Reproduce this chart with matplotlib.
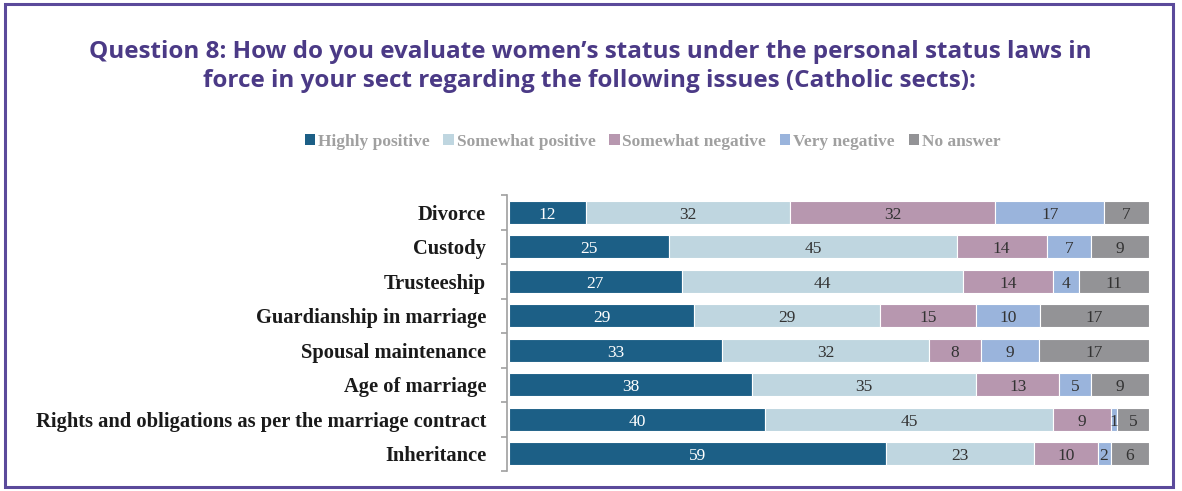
import matplotlib
matplotlib.use('Agg')

import matplotlib.pyplot as plt
from matplotlib.patches import Patch, Rectangle
import numpy as np

# Survey answers (Catholic sects), percentage of respondents per issue
issues = ['Divorce', 'Custody', 'Trusteeship', 'Guardianship in marriage',
          'Spousal maintenance', 'Age of marriage',
          'Rights and obligations as per the marriage contract', 'Inheritance']
answers = ['Highly positive', 'Somewhat positive', 'Somewhat negative',
           'Very negative', 'No answer']
highly_positive = [12, 25, 27, 29, 33, 38, 40, 59]
somewhat_positive = [32, 45, 44, 29, 32, 35, 45, 23]
somewhat_negative = [32, 14, 14, 15, 8, 13, 9, 10]
very_negative = [17, 7, 4, 10, 9, 5, 1, 2]
no_answer = [7, 9, 11, 17, 17, 9, 5, 6]

colors = ['#1c5f86', '#bfd6e0', '#b797af', '#9ab4dc', '#939396']
text_colors = ['white', '#333333', '#333333', '#333333', '#333333']

series = np.array([highly_positive, somewhat_positive, somewhat_negative,
                   very_negative, no_answer], dtype=float)
# bars are stacked to 100% of each row
shares = series / series.sum(axis=0) * 100

fig = plt.figure(figsize=(11.82, 4.91), dpi=100)
ax = fig.add_axes([0.4289, 0.0407, 0.5431, 0.5621])

y = np.arange(len(issues))
left = np.zeros(len(issues))
for vals, share, col, tcol in zip(series, shares, colors, text_colors):
    ax.barh(y, share, left=left, height=0.67, color=col,
            edgecolor='white', linewidth=0.8)
    for yi, v, l, s in zip(y, vals, left, share):
        ax.text(l + s / 2, yi + 0.07, f'{v:.0f}', ha='center', va='center',
                color=tcol, fontsize=12.5, family='Liberation Serif')
    left += share

ax.set_xlim(-0.3, 100)
ax.set_ylim(len(issues) - 0.5, -0.5)
ax.set_xticks([])
ax.set_yticks(y)
ax.set_yticklabels(issues, family='Liberation Serif', fontweight='bold',
                   fontsize=14.8, color='#1a1a1a')
ax.tick_params(axis='y', which='major', length=0, pad=15)
ax.set_yticks(np.arange(-0.5, len(issues)), minor=True)
ax.tick_params(axis='y', which='minor', length=4.5, color='#a0a0a0', width=1.2)
for side in ['top', 'right', 'bottom']:
    ax.spines[side].set_visible(False)
ax.spines['left'].set_color('#a0a0a0')
ax.spines['left'].set_linewidth(1.2)

fig.text(0.499, 0.865,
         'Question 8: How do you evaluate women\u2019s status under the personal status laws in\n'
         'force in your sect regarding the following issues (Catholic sects):',
         ha='center', va='center', family='Open Sans', fontweight='bold',
         fontsize=17.5, color='#4b3a86', linespacing=1.3)

handles = [Patch(facecolor=c, edgecolor='none') for c in colors]
fig.legend(handles, answers, loc='center', bbox_to_anchor=(0.552, 0.711),
           ncol=5, frameon=False, handlelength=0.6, handleheight=0.6,
           handletextpad=0.15, columnspacing=0.8,
           prop={'family': 'Liberation Serif', 'weight': 'bold', 'size': 12.5},
           labelcolor='#a0a0a0')

# purple frame round the whole figure
fig.patches.append(Rectangle((0.004, 0.008), 0.988, 0.983, transform=fig.transFigure,
                             fill=False, edgecolor='#5b4a9b', linewidth=2.2))

fig.savefig('out.png', dpi=100)
